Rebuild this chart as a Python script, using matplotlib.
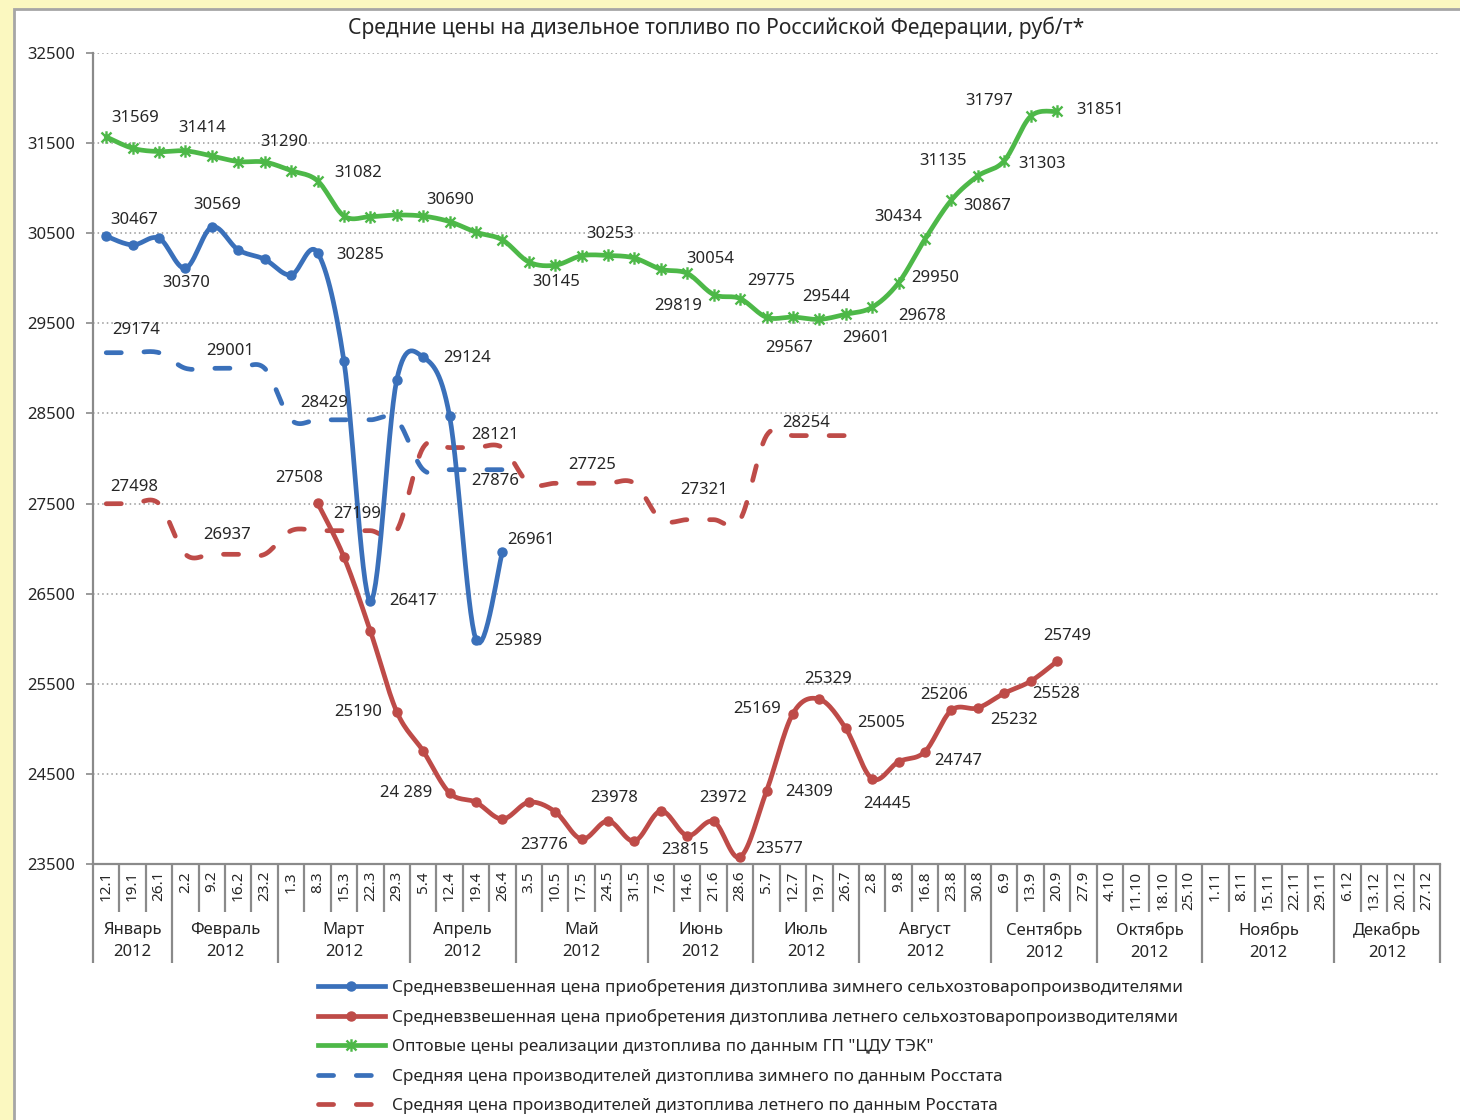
import matplotlib
matplotlib.use("Agg")
import matplotlib.pyplot as plt
import numpy as np
from matplotlib.lines import Line2D
from matplotlib.patches import Rectangle
from matplotlib.path import Path
from matplotlib.transforms import blended_transform_factory


TITLE = "Средние цены на дизельное топливо по Российской Федерации, руб/т*"

WEEKS = [
    "12.1", "19.1", "26.1",
    "2.2", "9.2", "16.2", "23.2",
    "1.3", "8.3", "15.3", "22.3", "29.3",
    "5.4", "12.4", "19.4", "26.4",
    "3.5", "10.5", "17.5", "24.5", "31.5",
    "7.6", "14.6", "21.6", "28.6",
    "5.7", "12.7", "19.7", "26.7",
    "2.8", "9.8", "16.8", "23.8", "30.8",
    "6.9", "13.9", "20.9", "27.9",
    "4.10", "11.10", "18.10", "25.10",
    "1.11", "8.11", "15.11", "22.11", "29.11",
    "6.12", "13.12", "20.12", "27.12",
]
MONTHS = ["Январь", "Февраль", "Март", "Апрель", "Май", "Июнь", "Июль",
          "Август", "Сентябрь", "Октябрь", "Ноябрь", "Декабрь"]
WEEKS_PER_MONTH = [3, 4, 5, 4, 5, 4, 4, 5, 4, 4, 5, 4]
YEAR = "2012"

# winter fuel, purchase price of agricultural producers (starts at week 0)
winter_buy_start = 0
winter_buy = [30467, 30370, 30444, 30112, 30569, 30315, 30211, 30037, 30285,
              29083, 26417, 28872, 29124, 28472, 25989, 26961]

# summer fuel, purchase price of agricultural producers (starts at week 8)
summer_buy_start = 8
summer_buy = [27508, 26907, 26086, 25190, 24754, 24289, 24185, 23999, 24185,
              24080, 23776, 23978, 23755, 24088, 23815, 23972, 23577, 24309,
              25169, 25329, 25005, 24445, 24635, 24747, 25206, 25232, 25395,
              25528, 25749]

# wholesale prices, CDU TEK
wholesale_start = 0
wholesale = [31569, 31443, 31406, 31414, 31358, 31295, 31290, 31195, 31082,
             30692, 30684, 30702, 30690, 30629, 30511, 30426, 30181, 30145,
             30250, 30253, 30225, 30100, 30054, 29819, 29775, 29567, 29570,
             29544, 29601, 29678, 29950, 30434, 30867, 31135, 31303, 31797,
             31851]

# Rosstat producer prices
winter_prod_start = 0
winter_prod = [29174, 29174, 29174, 29001, 29001, 29001, 29001, 28429, 28429,
               28429, 28429, 28429, 27876, 27876, 27876, 27876]
summer_prod_start = 0
summer_prod = [27498, 27498, 27498, 26937, 26937, 26937, 26937, 27199, 27199,
               27199, 27199, 27199, 28121, 28121, 28121, 28121, 27725, 27725,
               27725, 27725, 27725, 27321, 27321, 27321, 27321, 28254, 28254,
               28254, 28254]

LEGEND_LABELS = [
    "Средневзвешенная цена приобретения дизтоплива зимнего сельхозтоваропроизводителями",
    "Средневзвешенная цена приобретения дизтоплива летнего сельхозтоваропроизводителями",
    "Оптовые цены реализации дизтоплива по данным ГП \"ЦДУ ТЭК\"",
    "Средняя цена производителей дизтоплива зимнего по данным Росстата",
    "Средняя цена производителей дизтоплива летнего по данным Росстата",
]

# which points carry a value label, and where the label sits (pixels from point)
winter_buy_labels = [(0, 28, 16), (1, 54, -38), (4, 5, 22), (8, 43, -2),
                     (10, 43, 0), (12, 44, -1), (14, 42, -1), (15, 29, 12)]
summer_buy_labels = [(8, -18, 25), (11, -39, 0), (13, -43, 0), (18, -37, -6),
                     (19, 6, 23), (22, -2, -14), (23, 9, 23), (24, 39, 8),
                     (25, 43, -1), (26, -36, 5), (27, 9, 20), (28, 36, 5),
                     (29, 15, -25), (31, 33, -9), (32, -7, 15), (33, 36, -12),
                     (35, 26, -13), (36, 10, 25)]
wholesale_labels = [(0, 29, 19), (3, 17, 23), (6, 20, 20), (8, 41, 8),
                    (12, 27, 16), (17, 1, -17), (19, 2, 21), (22, 23, 14),
                    (23, -35, -11), (24, 31, 18), (25, 23, -31), (27, 7, 22),
                    (28, 20, -24), (29, 50, -9), (30, 37, 5), (31, -27, 22),
                    (32, 36, -6), (33, -35, 15), (34, 38, -3), (35, -41, 15),
                    (36, 43, 1)]
winter_prod_labels = [(0, 30, 23), (4, 18, 17), (8, 7, 17), (14, 19, -11)]
summer_prod_labels = [(0, 28, 17), (4, 15, 19), (10, -13, 17), (14, 19, 13),
                      (18, 11, 18), (22, 17, 30), (27, -13, 13)]
LABEL_TEXT_OVERRIDE = {24289: "24 289"}

BLUE = "#3A70BA"
RED = "#BE4B48"
GREEN = "#4DB848"
GRAY = "#8A8A8A"
FONT = ["Noto Sans", "DejaVu Sans"]

plt.rcParams["font.family"] = FONT
plt.rcParams["text.color"] = "#262626"


def smooth(xs, ys, n=16):
    # Excel-like smoothed line: Catmull-Rom segments as cubic Bezier
    xs = np.asarray(xs, dtype=float)
    ys = np.asarray(ys, dtype=float)
    pts = np.column_stack([xs, ys])
    last = len(pts) - 1
    t = np.linspace(0, 1, n)[:, None]
    out = [pts[:1]]
    for i in range(last):
        p0 = pts[max(i - 1, 0)]
        p1 = pts[i]
        p2 = pts[i + 1]
        p3 = pts[min(i + 2, last)]
        c1 = p1 + (p2 - p0) / 6
        c2 = p2 - (p3 - p1) / 6
        seg = ((1 - t) ** 3) * p1 + 3 * ((1 - t) ** 2) * t * c1 \
            + 3 * (1 - t) * t ** 2 * c2 + t ** 3 * p2
        out.append(seg[1:])
    res = np.vstack(out)
    return res[:, 0], res[:, 1]


star = Path(
    [(-1, -1), (1, 1), (-1, 1), (1, -1), (0, -1.25), (0, 1.25)],
    [Path.MOVETO, Path.LINETO, Path.MOVETO, Path.LINETO, Path.MOVETO, Path.LINETO],
)

fig = plt.figure(figsize=(14.6, 11.2), dpi=100, facecolor="#FBF8C0")
fig.patches.append(Rectangle((14 / 1460, -0.05), 1.2, 1.05 - 9 / 1120,
                             transform=fig.transFigure, facecolor="white",
                             edgecolor="#A6A6A6", linewidth=2.0, zorder=-5))

ax = fig.add_axes([93 / 1460, 1 - 864 / 1120, (1440 - 93) / 1460, (864 - 53) / 1120])
ax.set_facecolor("none")
ax.set_zorder(2)

n_weeks = len(WEEKS)
ax.set_xlim(-0.5, n_weeks - 0.5)
ax.set_ylim(23500, 32500)
ax.set_yticks(np.arange(23500, 32501, 1000))
ax.yaxis.grid(True, linestyle=(0, (1, 2)), color="#999999", linewidth=1.1)
ax.set_axisbelow(True)
ax.tick_params(axis="y", labelsize=12, length=5, width=1.2, color=GRAY, pad=8,
               labelcolor="#262626")
ax.set_xticks(np.arange(n_weeks))
ax.set_xticklabels(WEEKS, rotation=90, fontsize=11, color="#262626")
ax.tick_params(axis="x", length=0, pad=5)
for side in ("top", "right"):
    ax.spines[side].set_visible(False)
for side in ("left", "bottom"):
    ax.spines[side].set_color(GRAY)
    ax.spines[side].set_linewidth(1.6)

# category separators and month groups under the axis
trans = blended_transform_factory(ax.transData, ax.transAxes)
short_y = -48 / 811
long_y = -99 / 811
boundaries = np.cumsum([0] + WEEKS_PER_MONTH)
for b in range(n_weeks + 1):
    y_end = long_y if b in boundaries else short_y
    ax.plot([b - 0.5, b - 0.5], [0, y_end], transform=trans, color=GRAY,
            linewidth=1.6, clip_on=False, solid_capstyle="butt")
for m, name in enumerate(MONTHS):
    center = (boundaries[m] + boundaries[m + 1] - 1) / 2
    ax.text(center, -77 / 811, f"{name}\n{YEAR}", transform=trans, ha="center",
            va="center", fontsize=12, linespacing=1.5)


def draw(start, values, color, dashed=False, marker=None, labels=()):
    xs = np.arange(start, start + len(values))
    sx, sy = smooth(xs, values)
    if dashed:
        ax.plot(sx, sy, color=color, linewidth=3.4, dashes=(3.2, 4.8),
                dash_capstyle="round", zorder=3)
    else:
        ax.plot(sx, sy, color=color, linewidth=3.4, solid_capstyle="round",
                zorder=4)
    if marker == "o":
        ax.plot(xs, values, linestyle="none", marker="o", markersize=6.5,
                color=color, zorder=5)
    elif marker == "star":
        ax.plot(xs, values, linestyle="none", marker=star, markersize=9,
                markeredgewidth=1.7, color=color, zorder=5)
    for idx, dx, dy in labels:
        v = values[idx - start]
        txt = LABEL_TEXT_OVERRIDE.get(v, f"{v:d}")
        ax.annotate(txt, (idx, v), xytext=(dx, dy), textcoords="offset pixels",
                    ha="center", va="center", fontsize=12, zorder=6)


draw(winter_prod_start, winter_prod, BLUE, dashed=True, labels=winter_prod_labels)
draw(summer_prod_start, summer_prod, RED, dashed=True, labels=summer_prod_labels)
draw(wholesale_start, wholesale, GREEN, marker="star", labels=wholesale_labels)
draw(summer_buy_start, summer_buy, RED, marker="o", labels=summer_buy_labels)
draw(winter_buy_start, winter_buy, BLUE, marker="o", labels=winter_buy_labels)

fig.text(716 / 1460, 1 - 28 / 1120, TITLE, ha="center", va="center", fontsize=15.2)

handles = [
    Line2D([], [], color=BLUE, linewidth=3.4, marker="o", markersize=6.5),
    Line2D([], [], color=RED, linewidth=3.4, marker="o", markersize=6.5),
    Line2D([], [], color=GREEN, linewidth=3.4, marker=star, markersize=9,
           markeredgewidth=1.7),
    Line2D([], [], color=BLUE, linewidth=3.4, dashes=(3.2, 4.8), dash_capstyle="round"),
    Line2D([], [], color=RED, linewidth=3.4, dashes=(3.2, 4.8), dash_capstyle="round"),
]
fig.legend(handles, LEGEND_LABELS, loc="upper left",
           bbox_to_anchor=(318 / 1460, 1 - 979 / 1120), frameon=False,
           fontsize=12.3, handlelength=3.9, handletextpad=0.45, labelspacing=0.77,
           borderpad=0, borderaxespad=0)

fig.savefig("out.png", dpi=100, facecolor=fig.get_facecolor())
